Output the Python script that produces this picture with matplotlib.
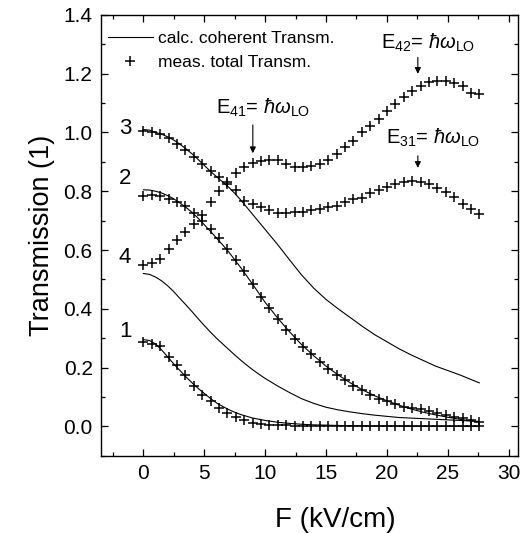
import numpy as np
import matplotlib
matplotlib.use('Agg')
import matplotlib.pyplot as plt
from matplotlib.ticker import MultipleLocator, FormatStrFormatter
from matplotlib.lines import Line2D

plt.rcParams['font.family'] = ['Liberation Sans', 'DejaVu Sans']
plt.rcParams['mathtext.fontset'] = 'custom'
plt.rcParams['mathtext.rm'] = 'Liberation Sans'
plt.rcParams['mathtext.it'] = 'Liberation Sans:italic'

# measured field values (kV/cm)
F_meas = [0.0, 0.69, 1.38, 2.07, 2.76, 3.45, 4.14, 4.83, 5.52, 6.21,
          6.9, 7.59, 8.28, 8.97, 9.66, 10.35, 11.04, 11.73, 12.42, 13.11,
          13.8, 14.49, 15.18, 15.87, 16.56, 17.25, 17.94, 18.63, 19.32, 20.01,
          20.7, 21.39, 22.08, 22.77, 23.46, 24.15, 24.84, 25.53, 26.22, 26.91,
          27.6]

# measured total transmission, samples 1..4
meas_1 = [0.286, 0.28, 0.275, 0.237, 0.209, 0.173, 0.138, 0.105, 0.085, 0.062,
          0.045, 0.032, 0.02, 0.013, 0.009, 0.006, 0.004, 0.003, 0.002, 0.002,
          0.001, 0.001, 0.001, 0.001, 0.0, 0.0, 0.0, 0.0, 0.0, 0.0,
          0.0, 0.0, 0.0, 0.0, 0.0, 0.0, 0.0, 0.0, 0.0, 0.0, 0.0]
meas_2 = [0.783, 0.788, 0.783, 0.774, 0.763, 0.749, 0.727, 0.70, 0.672, 0.642,
          0.602, 0.565, 0.529, 0.484, 0.441, 0.401, 0.364, 0.328, 0.296, 0.271,
          0.245, 0.218, 0.195, 0.175, 0.156, 0.138, 0.122, 0.107, 0.094, 0.087,
          0.076, 0.066, 0.062, 0.058, 0.052, 0.045, 0.038, 0.032, 0.027, 0.022,
          0.016]
meas_3 = [1.006, 1.0, 0.995, 0.981, 0.961, 0.941, 0.915, 0.893, 0.870, 0.848,
          0.825, 0.805, 0.768, 0.757, 0.746, 0.735, 0.725, 0.725, 0.729, 0.729,
          0.735, 0.74, 0.748, 0.751, 0.763, 0.774, 0.776, 0.795, 0.805, 0.816,
          0.825, 0.832, 0.835, 0.832, 0.825, 0.81, 0.797, 0.78, 0.757, 0.74,
          0.723]
meas_4 = [0.548, 0.557, 0.571, 0.602, 0.633, 0.66, 0.69, 0.72, 0.765, 0.802,
          0.83, 0.862, 0.881, 0.895, 0.904, 0.906, 0.906, 0.893, 0.883, 0.881,
          0.887, 0.893, 0.906, 0.927, 0.949, 0.972, 1.0, 1.023, 1.045, 1.074,
          1.096, 1.119, 1.141, 1.158, 1.172, 1.175, 1.175, 1.169, 1.158, 1.136,
          1.13]

# calculated coherent transmission
F_calc = [0, 0.5, 1, 1.5, 2, 2.5, 3, 3.5, 4, 4.5, 5, 5.5, 6, 6.5, 7, 7.5, 8, 8.5,
          9, 9.5, 10, 11, 12, 13, 14, 15, 16, 17, 18, 19, 20, 21, 22, 23, 24,
          25, 26, 27, 27.6]
calc_1 = [0.295, 0.292, 0.28, 0.26, 0.236, 0.212, 0.19, 0.168, 0.148, 0.129,
          0.112, 0.095, 0.08, 0.068, 0.057, 0.048, 0.04, 0.034, 0.028, 0.024,
          0.02, 0.014, 0.01, 0.007, 0.005, 0.004, 0.003, 0.002, 0.002, 0.001,
          0.001, 0.001, 0.0, 0.0, 0.0, 0.0, 0.0, 0.0, 0.0]
calc_2 = [0.805, 0.804, 0.80, 0.794, 0.785, 0.774, 0.76, 0.745, 0.728, 0.708,
          0.686, 0.664, 0.641, 0.618, 0.594, 0.567, 0.54, 0.511, 0.482, 0.452,
          0.422, 0.37, 0.322, 0.278, 0.24, 0.205, 0.175, 0.148, 0.124, 0.104,
          0.087, 0.072, 0.059, 0.048, 0.039, 0.031, 0.024, 0.018, 0.014]
calc_3 = [1.01, 1.008, 1.0, 0.994, 0.985, 0.974, 0.96, 0.944, 0.927, 0.908,
          0.888, 0.868, 0.85, 0.832, 0.814, 0.793, 0.77, 0.745, 0.72, 0.695,
          0.67, 0.62, 0.567, 0.515, 0.47, 0.432, 0.40, 0.37, 0.34, 0.312,
          0.288, 0.264, 0.243, 0.224, 0.205, 0.19, 0.175, 0.158, 0.148]
calc_4 = [0.52, 0.517, 0.508, 0.495, 0.478, 0.458, 0.435, 0.413, 0.39, 0.366,
          0.343, 0.321, 0.3, 0.281, 0.262, 0.243, 0.225, 0.208, 0.192, 0.177,
          0.163, 0.138, 0.115, 0.094, 0.078, 0.065, 0.056, 0.049, 0.043, 0.038,
          0.034, 0.03, 0.028, 0.026, 0.024, 0.022, 0.02, 0.018, 0.017]

fig = plt.figure(figsize=(5.21, 5.33), dpi=100)
ax = fig.add_axes([0.194, 0.145, 0.800, 0.827])

for c in [calc_1, calc_2, calc_3, calc_4]:
    ax.plot(F_calc, c, color='black', lw=0.8)
for m in [meas_1, meas_2, meas_3, meas_4]:
    ax.plot(F_meas, m, ls='none', marker='+', color='black', ms=7, mew=1.1)

h = [Line2D([], [], color='black', lw=0.8),
     Line2D([], [], ls='none', marker='+', color='black', ms=7, mew=1.1)]
ax.legend(h, ['calc. coherent Transm.', 'meas. total Transm.'], loc='upper left',
          bbox_to_anchor=(-0.015, 0.993), frameon=False, fontsize=12.5,
          handlelength=2.6, handletextpad=0.3, borderaxespad=0.35,
          labelspacing=0.48, borderpad=0.4)

# curve numbers
for lab, yv in [('3', 1.015), ('2', 0.842), ('4', 0.575), ('1', 0.324)]:
    ax.text(-1.5, yv, lab, fontsize=16, ha='center', va='center')

lbl = r'$\mathrm{E}_{%s}$= $\hbar\omega_{\mathrm{LO}}$'
ax.annotate('', xy=(8.99, 0.92), xytext=(8.99, 1.035),
            arrowprops=dict(arrowstyle='-|>', color='black', lw=0.8, mutation_scale=9))
ax.text(9.8, 1.084, lbl % '41', fontsize=14.5, ha='center', va='center')
ax.annotate('', xy=(22.55, 1.19), xytext=(22.55, 1.265),
            arrowprops=dict(arrowstyle='-|>', color='black', lw=0.8, mutation_scale=9))
ax.text(23.35, 1.304, lbl % '42', fontsize=14.5, ha='center', va='center')
ax.annotate('', xy=(22.55, 0.87), xytext=(22.55, 0.93),
            arrowprops=dict(arrowstyle='-|>', color='black', lw=0.8, mutation_scale=9))
ax.text(23.76, 0.982, lbl % '31', fontsize=14.5, ha='center', va='center')

ax.set_xlim(-3.48, 30.77)
ax.set_ylim(-0.1, 1.4)
ax.xaxis.set_major_locator(MultipleLocator(5))
ax.xaxis.set_minor_locator(MultipleLocator(2.5))
ax.yaxis.set_major_locator(MultipleLocator(0.2))
ax.yaxis.set_minor_locator(MultipleLocator(0.1))
ax.yaxis.set_major_formatter(FormatStrFormatter('%.1f'))
ax.tick_params(which='both', direction='in', top=True, right=True, labelsize=15, width=0.9)
ax.tick_params(which='major', length=5, pad=6)
ax.tick_params(which='minor', length=3)
for s in ax.spines.values():
    s.set_linewidth(1.0)

ax.set_xlabel('F (kV/cm)', fontsize=20)
ax.xaxis.set_label_coords(0.562, -0.117)
ax.set_ylabel('Transmission (1)', fontsize=19.5, labelpad=6)

fig.savefig('out.png', dpi=100)
